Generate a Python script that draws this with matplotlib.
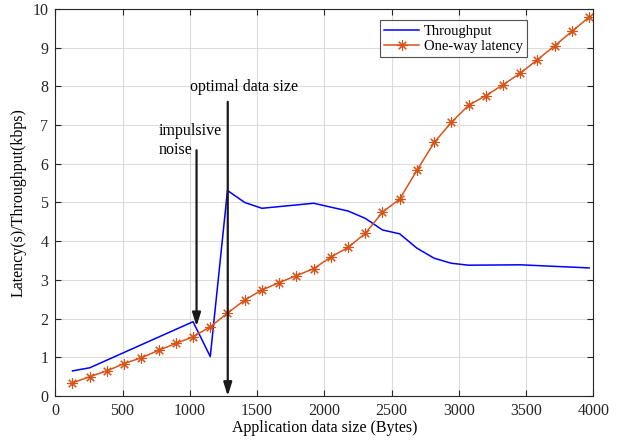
import matplotlib
matplotlib.use("Agg")
import matplotlib.pyplot as plt

# Data
lat_x = [128 * k for k in range(1, 32)]
lat_y = [0.34, 0.50, 0.65, 0.84, 0.99, 1.18, 1.36, 1.53, 1.79, 2.14,
         2.48, 2.74, 2.93, 3.11, 3.29, 3.59, 3.84, 4.20, 4.75, 5.09,
         5.83, 6.55, 7.07, 7.51, 7.76, 8.04, 8.34, 8.69, 9.05, 9.42, 9.79]
thr_x = [128, 256, 1024, 1152, 1280, 1408, 1536, 1920, 2048, 2176, 2304,
         2432, 2560, 2688, 2816, 2944, 3072, 3456, 3968]
thr_y = [0.65, 0.73, 1.92, 1.02, 5.31, 5.00, 4.85, 4.98, 4.88, 4.78, 4.59,
         4.29, 4.19, 3.82, 3.56, 3.43, 3.38, 3.39, 3.31]
x_ticks = [0, 500, 1000, 1500, 2000, 2500, 3000, 3500, 4000]
y_ticks = list(range(0, 11))

plt.rcParams['font.family'] = ['Liberation Serif', 'DejaVu Serif']

fig = plt.figure(figsize=(6.28, 4.46), dpi=100)
ax = fig.add_axes([0.088, 0.112, 0.857, 0.868])

ax.plot(thr_x, thr_y, color=(0, 0, 1), lw=1.1, label='Throughput')
ax.plot(lat_x, lat_y, color='#D95319', lw=1.1, marker=(8, 2, 0),
        markersize=7.5, markeredgewidth=0.8, label='One-way latency')

ax.set_xlim(0, 4000)
ax.set_ylim(0, 10)
ax.set_xticks(x_ticks)
ax.set_yticks(y_ticks)
ax.grid(True, color='#dcdcdc', lw=0.8)
ax.set_axisbelow(True)
ax.tick_params(direction='in', top=True, right=True, labelsize=11.5,
               colors='#262626', length=4, pad=5)
for s in ax.spines.values():
    s.set_color('#262626')
    s.set_linewidth(0.8)

ax.set_xlabel('Application data size (Bytes)', fontsize=11.5, labelpad=1)
ax.set_ylabel('Latency(s)/Throughput(kbps)', fontsize=11.5, labelpad=4)

leg = ax.legend(loc='upper left', bbox_to_anchor=(0.59, 0.99), fontsize=10.5,
                frameon=True, fancybox=False, edgecolor='#262626',
                handlelength=2.4, borderpad=0.3, labelspacing=0.15,
                handletextpad=0.3)
leg.get_frame().set_linewidth(0.8)

arrowprops = dict(arrowstyle='-|>,head_length=0.8,head_width=0.25',
                  color='#1a1a1a', lw=1.6, shrinkA=0, shrinkB=0)
ax.annotate('', xy=(1050, 1.8), xytext=(1050, 6.35), arrowprops=arrowprops)
ax.annotate('', xy=(1282, 0.0), xytext=(1282, 7.6), arrowprops=arrowprops)

ax.text(1405, 7.98, 'optimal data size', ha='center', va='center',
        fontsize=11.5)
ax.text(767, 6.6, 'impulsive\nnoise', ha='left', va='center',
        fontsize=11.5, linespacing=1.2)

fig.savefig('out.png', dpi=100)
